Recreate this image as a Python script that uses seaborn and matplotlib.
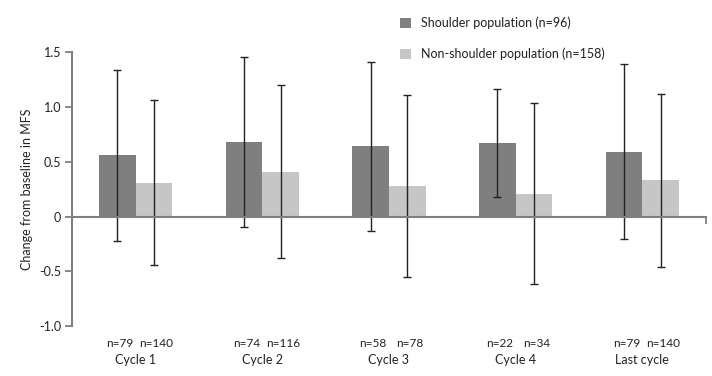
import numpy as np
import pandas as pd
import seaborn as sns
import matplotlib
matplotlib.use('Agg')
import matplotlib.pyplot as plt
from matplotlib.patches import Patch

cycles = ['Cycle 1', 'Cycle 2', 'Cycle 3', 'Cycle 4', 'Last cycle']
groups = ['Shoulder population (n=96)', 'Non-shoulder population (n=158)']
shoulder_mean = [0.56, 0.68, 0.64, 0.67, 0.59]
shoulder_sd = [0.78, 0.78, 0.77, 0.49, 0.80]
non_mean = [0.31, 0.41, 0.28, 0.21, 0.33]
non_sd = [0.75, 0.79, 0.83, 0.83, 0.79]
shoulder_n = ['n=79', 'n=74', 'n=58', 'n=22', 'n=79']
non_n = ['n=140', 'n=116', 'n=78', 'n=34', 'n=140']
colors = ['#7f7f7f', '#c6c6c6']

df = pd.DataFrame({
    'cycle': cycles * 2,
    'group': [groups[0]] * 5 + [groups[1]] * 5,
    'value': shoulder_mean + non_mean,
})

sns.set_style('white')
plt.rcParams['font.family'] = ['Lato', 'DejaVu Sans']

fig = plt.figure(figsize=(7.12, 3.76), dpi=100)
ax = fig.add_axes([0.1015, 0.133, 0.8895, 0.728])

sns.barplot(data=df, x='cycle', y='value', hue='group', order=cycles,
            hue_order=groups, palette=colors, width=0.58, errorbar=None,
            linewidth=0, saturation=1, legend=False, ax=ax)

# error bars (mean +/- sd) at bar centres
for cont, sds in zip(ax.containers, [shoulder_sd, non_sd]):
    xs = [b.get_x() + b.get_width() / 2 for b in cont]
    ys = [b.get_height() for b in cont]
    ax.errorbar(xs, ys, yerr=sds, fmt='none', ecolor='#222222',
                elinewidth=1, capsize=3, capthick=1)

ax.set_xlim(-0.5, 4.5)
ax.set_ylim(-1.0, 1.5)
ax.set_yticks([-1.0, -0.5, 0, 0.5, 1.0, 1.5])
ax.set_yticklabels(['-1.0', '-0.5', '0', '0.5', '1.0', '1.5'])
ax.tick_params(axis='y', direction='out', length=5, width=1.3, color='#7f7f7f',
               labelsize=9, labelcolor='#222222', pad=3, left=True)

for s in ['top', 'right']:
    ax.spines[s].set_visible(False)
ax.spines['left'].set_color('#7f7f7f')
ax.spines['left'].set_linewidth(1.5)
ax.spines['bottom'].set_position(('data', 0))
ax.spines['bottom'].set_color('#7f7f7f')
ax.spines['bottom'].set_linewidth(1.5)
ax.set_xticks([4.5])
ax.set_xticklabels([''])
ax.tick_params(axis='x', direction='out', length=5, width=1.3, color='#7f7f7f',
               bottom=True)
ax.set_xlabel('')
ax.set_ylabel('Change from baseline in MFS', fontsize=9, color='#222222', labelpad=4)

# n labels under each bar, cycle labels under groups
tr = ax.get_xaxis_transform()
for cs, cn, ns, nn, cyc in zip(ax.containers[0], ax.containers[1], shoulder_n, non_n, cycles):
    x0 = cs.get_x() + cs.get_width() / 2
    x1 = cn.get_x() + cn.get_width() / 2
    ax.text(x0 + 0.02, -0.065, ns, transform=tr, ha='center', va='center', fontsize=8.5, color='#222222')
    ax.text(x1 + 0.02, -0.065, nn, transform=tr, ha='center', va='center', fontsize=8.5, color='#222222')
    ax.text((x0 + x1) / 2, -0.125, cyc, transform=tr, ha='center', va='center', fontsize=9, color='#222222')

handles = [Patch(facecolor=c, edgecolor='none') for c in colors]
fig.legend(handles, groups, loc='upper left', bbox_to_anchor=(0.546, 0.985),
           frameon=False, fontsize=9, handlelength=0.9, handleheight=0.9,
           handletextpad=0.8, labelspacing=1.45, labelcolor='#222222')

fig.savefig('out.png', dpi=100)
